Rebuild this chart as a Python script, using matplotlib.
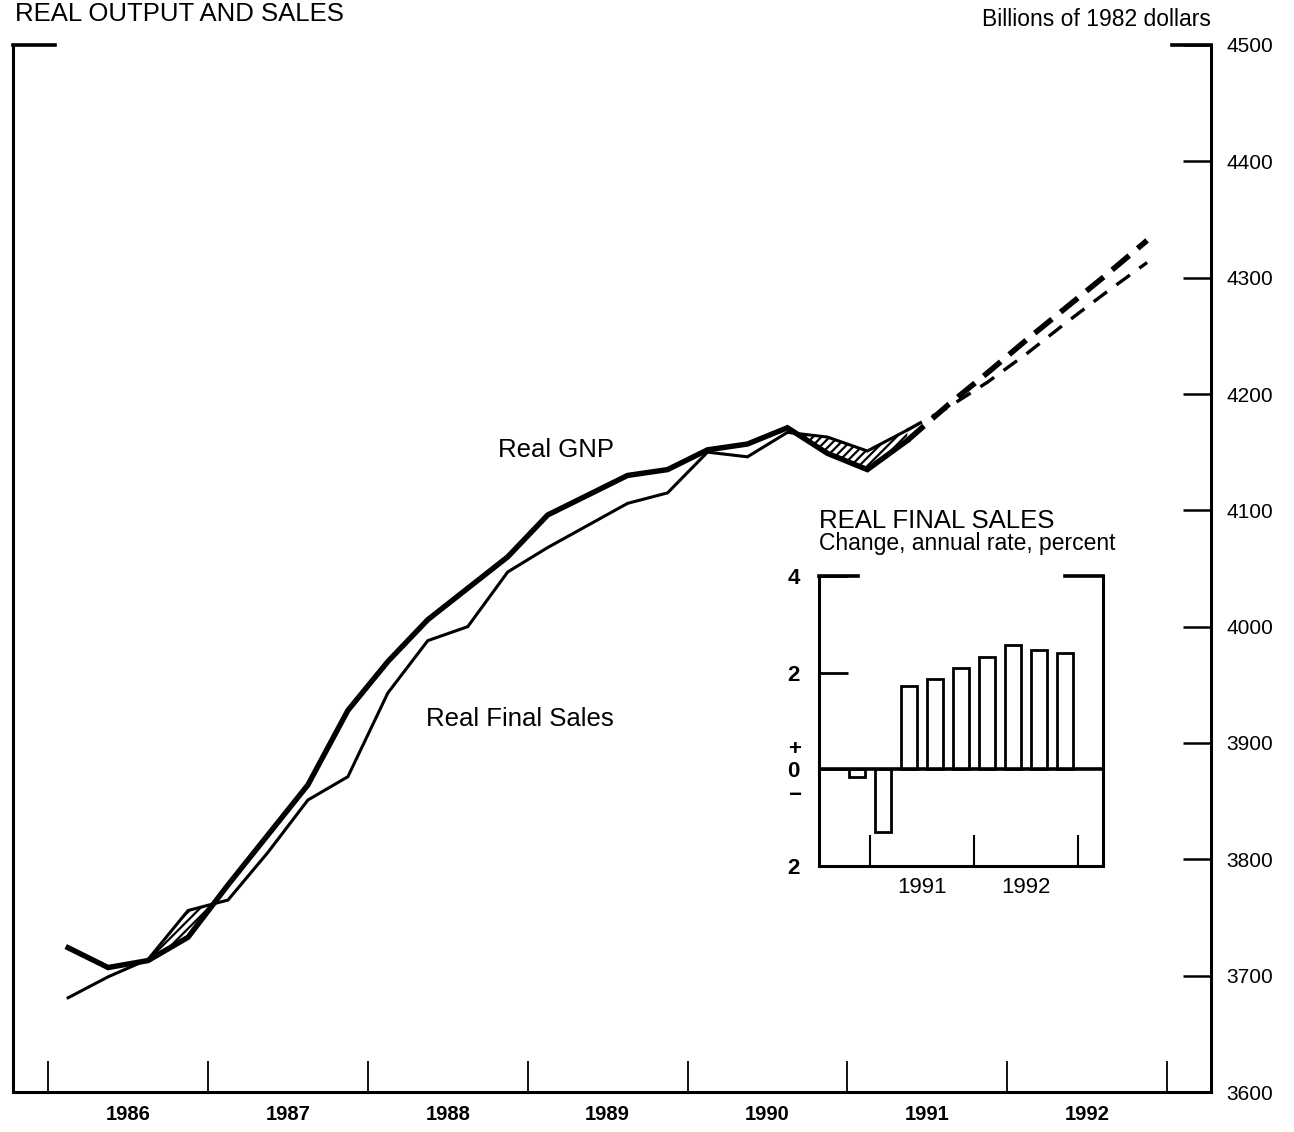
import matplotlib
matplotlib.use("Agg")
import matplotlib.pyplot as plt
import numpy as np

plt.rcParams.update({
    "font.family": ["Liberation Sans", "DejaVu Sans"],
    "font.size": 13,
    "hatch.linewidth": 1.6,
})

# ---------------------------------------------------------------- data
# quarterly levels, billions of 1982 dollars
hist_q = ["1986Q1", "1986Q2", "1986Q3", "1986Q4",
          "1987Q1", "1987Q2", "1987Q3", "1987Q4",
          "1988Q1", "1988Q2", "1988Q3", "1988Q4",
          "1989Q1", "1989Q2", "1989Q3", "1989Q4",
          "1990Q1", "1990Q2", "1990Q3", "1990Q4",
          "1991Q1", "1991Q2"]
gnp_hist = [3724, 3707, 3713, 3733, 3778, 3821, 3864, 3928,
            3970, 4006, 4033, 4060, 4096, 4113, 4130, 4135,
            4152, 4157, 4171, 4149, 4135, 4160]
fs_hist = [3681, 3699, 3714, 3756, 3765, 3806, 3851, 3871,
           3943, 3988, 4000, 4047, 4068, 4087, 4106, 4115,
           4150, 4146, 4167, 4163, 4151, 4169]

fc_q = ["1991Q2", "1991Q3", "1991Q4", "1992Q1", "1992Q2", "1992Q3", "1992Q4"]
gnp_fc = [4160, 4190, 4218, 4247, 4275, 4303, 4332]
fs_fc = [4169, 4188, 4210, 4235, 4262, 4288, 4313]

# inset: real final sales, change at annual rate, percent
bar_q = ["1990Q4", "1991Q1", "1991Q2", "1991Q3", "1991Q4",
         "1992Q1", "1992Q2", "1992Q3", "1992Q4"]
bar_vals = [-0.15, -1.3, 1.73, 1.87, 2.09, 2.33, 2.57, 2.46, 2.41]

years = [1986, 1987, 1988, 1989, 1990, 1991, 1992]


def qpos(labels):
    # place each quarter at its middle
    return np.array([int(s[:4]) + (int(s[-1]) - 0.5) / 4 for s in labels])


# ---------------------------------------------------------------- figure
fig = plt.figure(figsize=(12.94, 11.32), dpi=100)
ax = fig.add_axes([13 / 1294, 40 / 1132, 1198 / 1294, 1047 / 1132])

xh, xf = qpos(hist_q), qpos(fc_q)
gh, fh = np.array(gnp_hist), np.array(fs_hist)

ax.fill_between(xh, gh, fh, where=fh > gh, interpolate=True,
                facecolor="white", edgecolor="black", hatch="////", linewidth=0)
ax.plot(xh, fh, color="black", lw=2.2, solid_joinstyle="miter")
ax.plot(xh, gh, color="black", lw=3.9, solid_joinstyle="miter")
ax.plot(xf, fs_fc, color="black", lw=2.4, linestyle=(0, (5, 3.5)))
ax.plot(xf, gnp_fc, color="black", lw=4.0, linestyle=(0, (4, 2)))

ax.text(1989.18, 4152, "Real GNP", fontsize=18.5, ha="center", va="center")
ax.text(1988.95, 3921, "Real Final Sales", fontsize=18.5, ha="center",
        va="center")

ax.set_xlim(1985.78, 1993.275)
ax.set_ylim(3600, 4500)

# year boundaries as ticks, year names between them
ax.set_xticks(years + [1993])
ax.set_xticklabels([])
ax.set_xticks([y + 0.5 for y in years], minor=True)
ax.set_xticklabels([str(y) for y in years], minor=True, fontsize=14.5,
                   fontweight="bold")
ax.tick_params(axis="x", which="major", direction="in", length=22, width=1.3)
ax.tick_params(axis="x", which="minor", length=0, pad=9)

ax.yaxis.tick_right()
ax.set_yticks(np.arange(3600, 4501, 100))
ax.tick_params(axis="y", direction="in", length=20, width=1.8, pad=11,
               labelsize=15)

for s in ["left", "right", "bottom"]:
    ax.spines[s].set_linewidth(2.2)
ax.spines["top"].set_visible(False)
ax.plot([0, 0.035], [1, 1], transform=ax.transAxes, color="black", lw=2.6,
        clip_on=False, solid_capstyle="projecting")
ax.plot([0.9675, 1], [1, 1], transform=ax.transAxes, color="black", lw=2.6,
        clip_on=False, solid_capstyle="projecting")

fig.text(15 / 1294, 1 - 2 / 1132, "REAL OUTPUT AND SALES", fontsize=18.5,
         va="top", ha="left")
fig.text(1211 / 1294, 1 - 20 / 1132, "Billions of 1982 dollars", fontsize=16.5,
         ha="right", va="center")

# ---------------------------------------------------------------- inset
ins = fig.add_axes([819 / 1294, 266 / 1132, 284 / 1294, 290 / 1132])
ins.bar(qpos(bar_q), bar_vals, width=0.145, facecolor="white",
        edgecolor="black", linewidth=2.0)
ins.axhline(0, color="black", lw=2.6)
ins.set_xlim(1990.51, 1993.24)
ins.set_ylim(-2, 4)

ins.set_xticks([1991, 1992, 1993])
ins.set_xticklabels([])
ins.set_xticks([1991.5, 1992.5], minor=True)
ins.set_xticklabels(["1991", "1992"], minor=True, fontsize=16)
ins.tick_params(axis="x", which="major", direction="in", length=22, width=1.5)
ins.tick_params(axis="x", which="minor", length=0, pad=8)

ins.set_yticks([-2, 0, 2, 4])
ins.set_yticklabels(["2", "0", "2", "4"], fontsize=16, fontweight="bold")
ins.tick_params(axis="y", direction="in", length=21, width=2.0, pad=14)
ins.text(-0.085, 0.42, "+", transform=ins.get_yaxis_transform(),
         ha="center", va="center", fontsize=16, fontweight="bold")
ins.text(-0.085, -0.55, "\u2212", transform=ins.get_yaxis_transform(),
         ha="center", va="center", fontsize=16, fontweight="bold")

for s in ["left", "right", "bottom"]:
    ins.spines[s].set_linewidth(2.2)
ins.spines["top"].set_visible(False)
ins.plot([0, 0.137], [1, 1], transform=ins.transAxes, color="black", lw=2.6,
         clip_on=False, solid_capstyle="projecting")
ins.plot([0.866, 1], [1, 1], transform=ins.transAxes, color="black", lw=2.6,
         clip_on=False, solid_capstyle="projecting")

ins.text(0.0, 1.165, "REAL FINAL SALES", transform=ins.transAxes,
         fontsize=18.5, ha="left", va="baseline")
ins.text(0.0, 1.09, "Change, annual rate, percent", transform=ins.transAxes,
         fontsize=16.5, ha="left", va="baseline")

fig.savefig("out.png", dpi=100, facecolor="white")
